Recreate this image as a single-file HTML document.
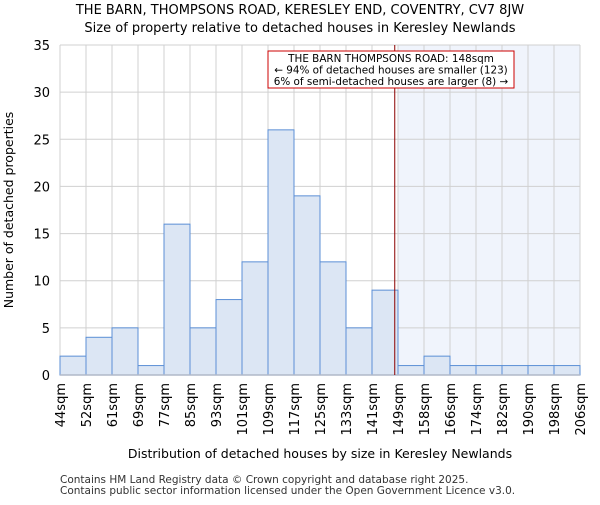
<!DOCTYPE html>
<html><head><meta charset="utf-8"><style>
body{margin:0;background:#fff;font-family:"Liberation Sans","DejaVu Sans",sans-serif}
text{font-family:"DejaVu Sans","Liberation Sans",sans-serif}
</style></head><body>
<svg id="chart" width="600" height="500" xmlns="http://www.w3.org/2000/svg">
<text x="300" y="14" text-anchor="middle" font-size="13" fill="#000">THE BARN, THOMPSONS ROAD, KERESLEY END, COVENTRY, CV7 8JW</text>
<text x="300" y="32" text-anchor="middle" font-size="13" fill="#000">Size of property relative to detached houses in Keresley Newlands</text>
<g id="plot"></g>
<text x="320" y="458" text-anchor="middle" font-size="12.5">Distribution of detached houses by size in Keresley Newlands</text>
<text transform="translate(13,210) rotate(-90)" text-anchor="middle" font-size="12.5">Number of detached properties</text>
<text x="60" y="483" font-size="10.5" fill="#333">Contains HM Land Registry data © Crown copyright and database right 2025.</text>
<text x="60" y="494" font-size="10.5" fill="#333">Contains public sector information licensed under the Open Government Licence v3.0.</text>
</svg>
<script>
const binLabels=["44sqm","52sqm","61sqm","69sqm","77sqm","85sqm","93sqm","101sqm","109sqm","117sqm","125sqm","133sqm","141sqm","149sqm","158sqm","166sqm","174sqm","182sqm","190sqm","198sqm","206sqm"];
const counts=[2,4,5,1,16,5,8,12,26,19,12,5,9,1,2,1,1,1,1,1];
const yTicks=[0,5,10,15,20,25,30,35];
const markerBin=12.875;
const L=60,R=580,T=45,B=375,YMAX=35;
const bw=(R-L)/counts.length;
const xs=i=>L+i*bw;
const ys=v=>B-(v/YMAX)*(B-T);
const ns="http://www.w3.org/2000/svg";
const g=document.getElementById('plot');
function mk(t,a){const e=document.createElementNS(ns,t);for(const k in a)e.setAttribute(k,a[k]);g.appendChild(e);return e;}
const markX=xs(markerBin);
const shadeX=xs(Math.ceil(markerBin));
let sh=mk('rect',{x:shadeX,y:T,width:R-shadeX,height:B-T,fill:'#f0f4fc'});


yTicks.forEach(v=>{let l=mk('line',{x1:L,x2:R,y1:ys(v),y2:ys(v),stroke:'#d0d0d0','stroke-width':1});


let t=mk('text',{x:L-10,y:ys(v)+5,'text-anchor':'end','font-size':13});t.textContent=v;

});
binLabels.forEach((lab,i)=>{let l=mk('line',{x1:xs(i),x2:xs(i),y1:T,y2:B,stroke:'#d0d0d0','stroke-width':1});


let t=mk('text',{transform:`translate(${xs(i)+5},${B+8}) rotate(-90)`,'text-anchor':'end','font-size':13});t.textContent=lab;

});
counts.forEach((c,i)=>{let r=mk('rect',{x:xs(i),y:ys(c),width:bw,height:B-ys(c),fill:'#dce6f4',stroke:'#5b8fd6','stroke-width':1});

});
let ax=mk('line',{x1:L,x2:R,y1:B,y2:B,stroke:'#b0b8c8','stroke-width':1.5});


let ml=mk('line',{x1:markX,x2:markX,y1:T,y2:B,stroke:'#8b0000','stroke-width':1});


let box=mk('rect',{x:268,y:51,width:246,height:37,fill:'#fff',stroke:'#cc0000','stroke-width':1});


["THE BARN THOMPSONS ROAD: 148sqm","← 94% of detached houses are smaller (123)","6% of semi-detached houses are larger (8) →"].forEach((s,i)=>{
let t=mk('text',{x:391,y:62+i*11.5,'text-anchor':'middle','font-size':10.4});t.textContent=s;

});
</script>
</body></html>
